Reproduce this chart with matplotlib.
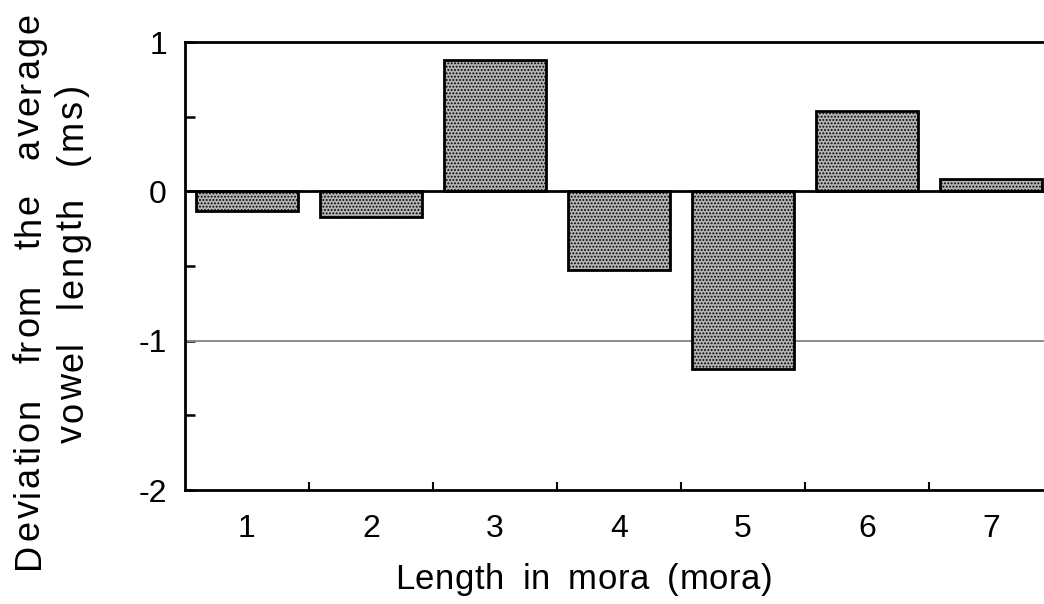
import numpy as np
import matplotlib.pyplot as plt
from matplotlib.ticker import FixedLocator, NullFormatter
from matplotlib.font_manager import FontProperties, findfont, get_font

# values
mora_lengths = [1, 2, 3, 4, 5, 6, 7]
deviation = [-0.13, -0.17, 0.88, -0.53, -1.19, 0.54, 0.08]
y_ticks = [-2, -1.5, -1, -0.5, 0, 0.5, 1]
y_labels = ['-2', '', '-1', '', '0', '', '1']

W, H, DPI = 1044, 604, 100
FAMILY = 'Liberation Sans'

plt.rcParams['font.family'] = [FAMILY, 'DejaVu Sans']
plt.rcParams['hatch.color'] = '#3a3a3a'
plt.rcParams['hatch.linewidth'] = 0.9


def tracked_label(fig, text, start, end, base, size, track, vertical=False):
    """Spread words of `text` between start and end (px), letters tracked."""
    fp = FontProperties(family=FAMILY, size=size)
    font = get_font(findfont(fp))
    font.set_size(size, DPI)
    words = text.split()
    advs = []
    for w in words:
        advs.append([font.load_char(ord(c)).linearHoriAdvance / 65536 for c in w])
    lens = [sum(a) + track * (len(a) - 1) for a in advs]
    gap = (abs(end - start) - sum(lens)) / (len(words) - 1)
    pos = start
    for w, a in zip(words, advs):
        for c, adv in zip(w, a):
            if vertical:
                fig.text(base / W, 1 - pos / H, c, rotation=90,
                         rotation_mode='anchor', ha='left', va='baseline',
                         fontproperties=fp)
                pos -= adv + track
            else:
                fig.text(pos / W, 1 - base / H, c, ha='left', va='baseline',
                         fontproperties=fp)
                pos += adv + track
        pos += (-gap if vertical else gap) + (track if vertical else -track)


fig = plt.figure(figsize=(W / DPI, H / DPI), dpi=DPI)
ax = fig.add_axes([185 / W, 114 / H, 868 / W, 448 / H])

ax.bar(mora_lengths, deviation, width=0.83, color='#b4b4b4', hatch='.....',
       edgecolor='black', linewidth=2.0, zorder=3)

# zero line and reference line at -1
ax.axhline(0, color='black', lw=2.0, zorder=4)
ax.axhline(-1, color='#8c8c8c', lw=1.4, zorder=2)

ax.set_xlim(0.5, 7.5)
ax.set_ylim(-2, 1)

# y ticks: inward every 0.5, labels at integers
ax.set_yticks(y_ticks)
ax.set_yticklabels(y_labels)
ax.tick_params(axis='y', direction='in', length=7, width=1.8, pad=13,
               labelsize=23)

# x: labels at category centres, tick marks at the boundaries
ax.set_xticks(mora_lengths)
ax.tick_params(axis='x', which='major', length=0, pad=17, labelsize=23)
ax.xaxis.set_minor_locator(FixedLocator(np.arange(1.5, 7.5, 1)))
ax.xaxis.set_minor_formatter(NullFormatter())
ax.tick_params(axis='x', which='minor', direction='in', length=6, width=1.5)

for s in ax.spines.values():
    s.set_linewidth(2.0)

# axis titles, letter-spaced like the original typesetting
tracked_label(fig, 'Length in mora (mora)', 395, 772, 589, 25, 0.5)
tracked_label(fig, 'Deviation from the average', 569, 13, 39, 26, 2.5,
              vertical=True)
tracked_label(fig, 'vowel length (ms)', 443, 85, 82, 26, 2.5, vertical=True)

fig.savefig('out.png', dpi=DPI)
